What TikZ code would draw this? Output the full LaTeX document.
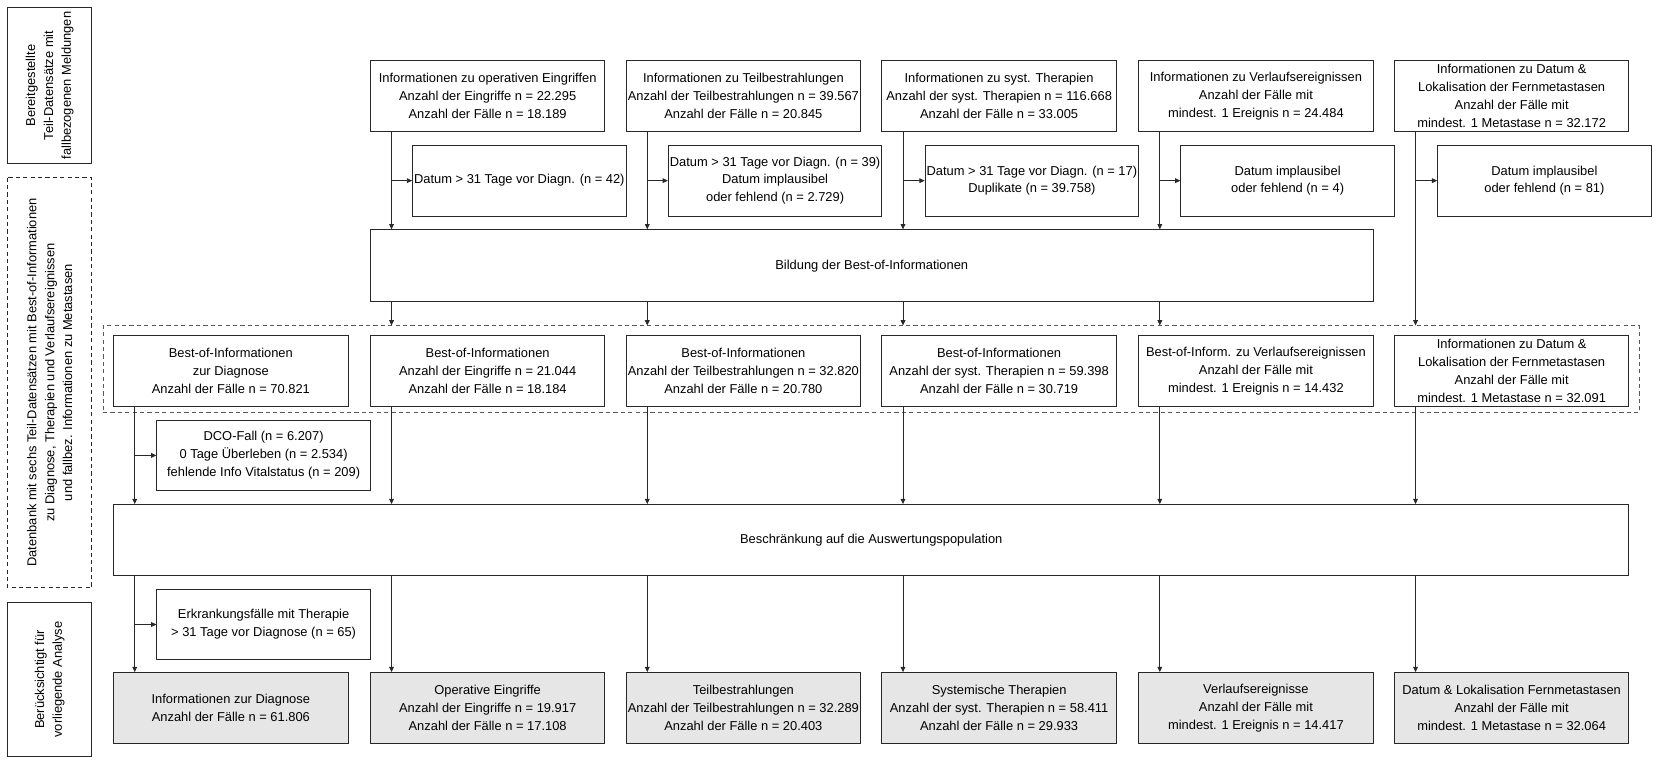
\documentclass[tikz,border=0pt]{standalone}
\usepackage{fontspec}
\setmainfont{Liberation Sans}
\usetikzlibrary{arrows.meta}
\definecolor{fillgray}{RGB}{230,230,230}
\definecolor{linegray}{RGB}{40,40,40}
\tikzset{
  txt/.style={font=\fontsize{12.2}{17}\selectfont},
  box/.style={txt, draw=linegray, line width=0.9pt, minimum width=222pt, minimum height=67pt,
    inner sep=0pt, anchor=north west, align=center},
  exbox/.style={box, minimum width=202pt},
  finbox/.style={box, fill=fillgray},
  widebox/.style={box, minimum height=68pt},
  sidebox/.style={txt, draw=linegray, line width=0.9pt, rotate=90, inner sep=0pt, align=center, minimum height=80pt},
  dashedbox/.style={sidebox, dash pattern=on 4pt off 3pt},
  framebox/.style={draw=black!65, line width=0.8pt, dash pattern=on 4pt off 3pt, inner sep=0pt,
    anchor=north west, minimum width=1454pt, minimum height=82pt},
  arr/.style={draw=linegray, line width=0.8pt, -{Triangle[length=5pt,width=4.5pt]}},
  ln/.style={draw=linegray, line width=0.8pt}
}
\begin{document}
\begin{tikzpicture}[x=1pt,y=-1pt]
\useasboundingbox (0,0) rectangle (1568,722);

% side labels
\node[sidebox, minimum width=148pt] (lA) at (47,81)
  {Bereitgestellte\\Teil-Datensätze mit\\fallbezogenen Meldungen};
\node[dashedbox, minimum width=388pt] (lB) at (47,362)
  {Datenbank mit sechs Teil-Datensätzen mit Best-of-Informationen\\zu Diagnose, Therapien und Verlaufsereignissen\\und fallbez. Informationen zu Metastasen};
\node[sidebox, minimum width=146pt] (lC) at (47,643)
  {Berücksichtigt für\\vorliegende Analyse};

% top boxes
\node[box] (t1) at (350,57) {Informationen zu operativen Eingriffen\\Anzahl der Eingriffe n = 22.295\\Anzahl der Fälle n = 18.189};
\node[box] (t2) at (592,57) {Informationen zu Teilbestrahlungen\\Anzahl der Teilbestrahlungen n = 39.567\\Anzahl der Fälle n = 20.845};
\node[box] (t3) at (834,57) {Informationen zu syst. Therapien\\Anzahl der syst. Therapien n = 116.668\\Anzahl der Fälle n = 33.005};
\node[box] (t4) at (1077,57) {Informationen zu Verlaufsereignissen\\Anzahl der Fälle mit\\mindest. 1 Ereignis n = 24.484};
\node[box] (t5) at (1319,57) {Informationen zu Datum \&\\Lokalisation der Fernmetastasen\\Anzahl der Fälle mit\\mindest. 1 Metastase n = 32.172};

% exclusion boxes (top)
\node[exbox] (e1) at (390,137) {Datum > 31 Tage vor Diagn. (n = 42)};
\node[exbox] (e2) at (632,137) {Datum > 31 Tage vor Diagn. (n = 39)\\Datum implausibel\\oder fehlend (n = 2.729)};
\node[exbox] (e3) at (875,137) {Datum > 31 Tage vor Diagn. (n = 17)\\Duplikate (n = 39.758)};
\node[exbox] (e4) at (1117,137) {Datum implausibel\\oder fehlend (n = 4)};
\node[exbox] (e5) at (1360,137) {Datum implausibel\\oder fehlend (n = 81)};

% Bildung
\node[widebox, minimum width=949pt] (bild) at (350,217) {Bildung der Best-of-Informationen};

% frame
\node[framebox] (frame) at (97,308) {};

% best-of boxes
\node[box] (b0) at (107,317) {Best-of-Informationen\\zur Diagnose\\Anzahl der Fälle n = 70.821};
\node[box] (b1) at (350,317) {Best-of-Informationen\\Anzahl der Eingriffe n = 21.044\\Anzahl der Fälle n = 18.184};
\node[box] (b2) at (592,317) {Best-of-Informationen\\Anzahl der Teilbestrahlungen n = 32.820\\Anzahl der Fälle n = 20.780};
\node[box] (b3) at (834,317) {Best-of-Informationen\\Anzahl der syst. Therapien n = 59.398\\Anzahl der Fälle n = 30.719};
\node[box] (b4) at (1077,317) {Best-of-Inform. zu Verlaufsereignissen\\Anzahl der Fälle mit\\mindest. 1 Ereignis n = 14.432};
\node[box] (b5) at (1319,317) {Informationen zu Datum \&\\Lokalisation der Fernmetastasen\\Anzahl der Fälle mit\\mindest. 1 Metastase n = 32.091};

% DCO
\node[exbox] (dco) at (148,397) {DCO-Fall (n = 6.207)\\0 Tage Überleben (n = 2.534)\\fehlende Info Vitalstatus (n = 209)};

% Beschränkung
\node[box, minimum width=1434pt] (besch) at (107,477) {Beschränkung auf die Auswertungspopulation};

% Erkrankungsfälle
\node[exbox] (erk) at (148,557) {Erkrankungsfälle mit Therapie\\> 31 Tage vor Diagnose (n = 65)};

% final boxes
\node[finbox] (f0) at (107,636) {Informationen zur Diagnose\\Anzahl der Fälle n = 61.806};
\node[finbox] (f1) at (350,636) {Operative Eingriffe\\Anzahl der Eingriffe n = 19.917\\Anzahl der Fälle n = 17.108};
\node[finbox] (f2) at (592,636) {Teilbestrahlungen\\Anzahl der Teilbestrahlungen n = 32.289\\Anzahl der Fälle n = 20.403};
\node[finbox] (f3) at (834,636) {Systemische Therapien\\Anzahl der syst. Therapien n = 58.411\\Anzahl der Fälle n = 29.933};
\node[finbox] (f4) at (1077,636) {Verlaufsereignisse\\Anzahl der Fälle mit\\mindest. 1 Ereignis n = 14.417};
\node[finbox] (f5) at (1319,636) {Datum \& Lokalisation Fernmetastasen\\Anzahl der Fälle mit\\mindest. 1 Metastase n = 32.064};

% connectors top -> Bildung
\foreach \i in {1,2,3,4}{
  \coordinate (v\i) at ([xshift=20.5pt]t\i.south west);
  \draw[arr] (v\i) -- (v\i |- bild.north);
  \draw[arr] (v\i |- e\i.west) -- (e\i.west);
}
\coordinate (v5) at ([xshift=20.5pt]t5.south west);
\draw[arr] (v5) -- (v5 |- frame.north);
\draw[arr] (v5 |- e5.west) -- (e5.west);

% Bildung -> frame
\foreach \i in {1,2,3,4}{
  \draw[arr] (v\i |- bild.south) -- (v\i |- frame.north);
}

% best-of -> Beschränkung
\foreach \i in {0,1,2,3,4,5}{
  \coordinate (w\i) at ([xshift=20.5pt]b\i.south west);
  \draw[arr] (w\i) -- (w\i |- besch.north);
  \draw[arr] (w\i |- besch.south) -- (w\i |- f\i.north);
}
\draw[arr] (w0 |- dco.west) -- (dco.west);
\draw[arr] (w0 |- erk.west) -- (erk.west);
\end{tikzpicture}
\end{document}
